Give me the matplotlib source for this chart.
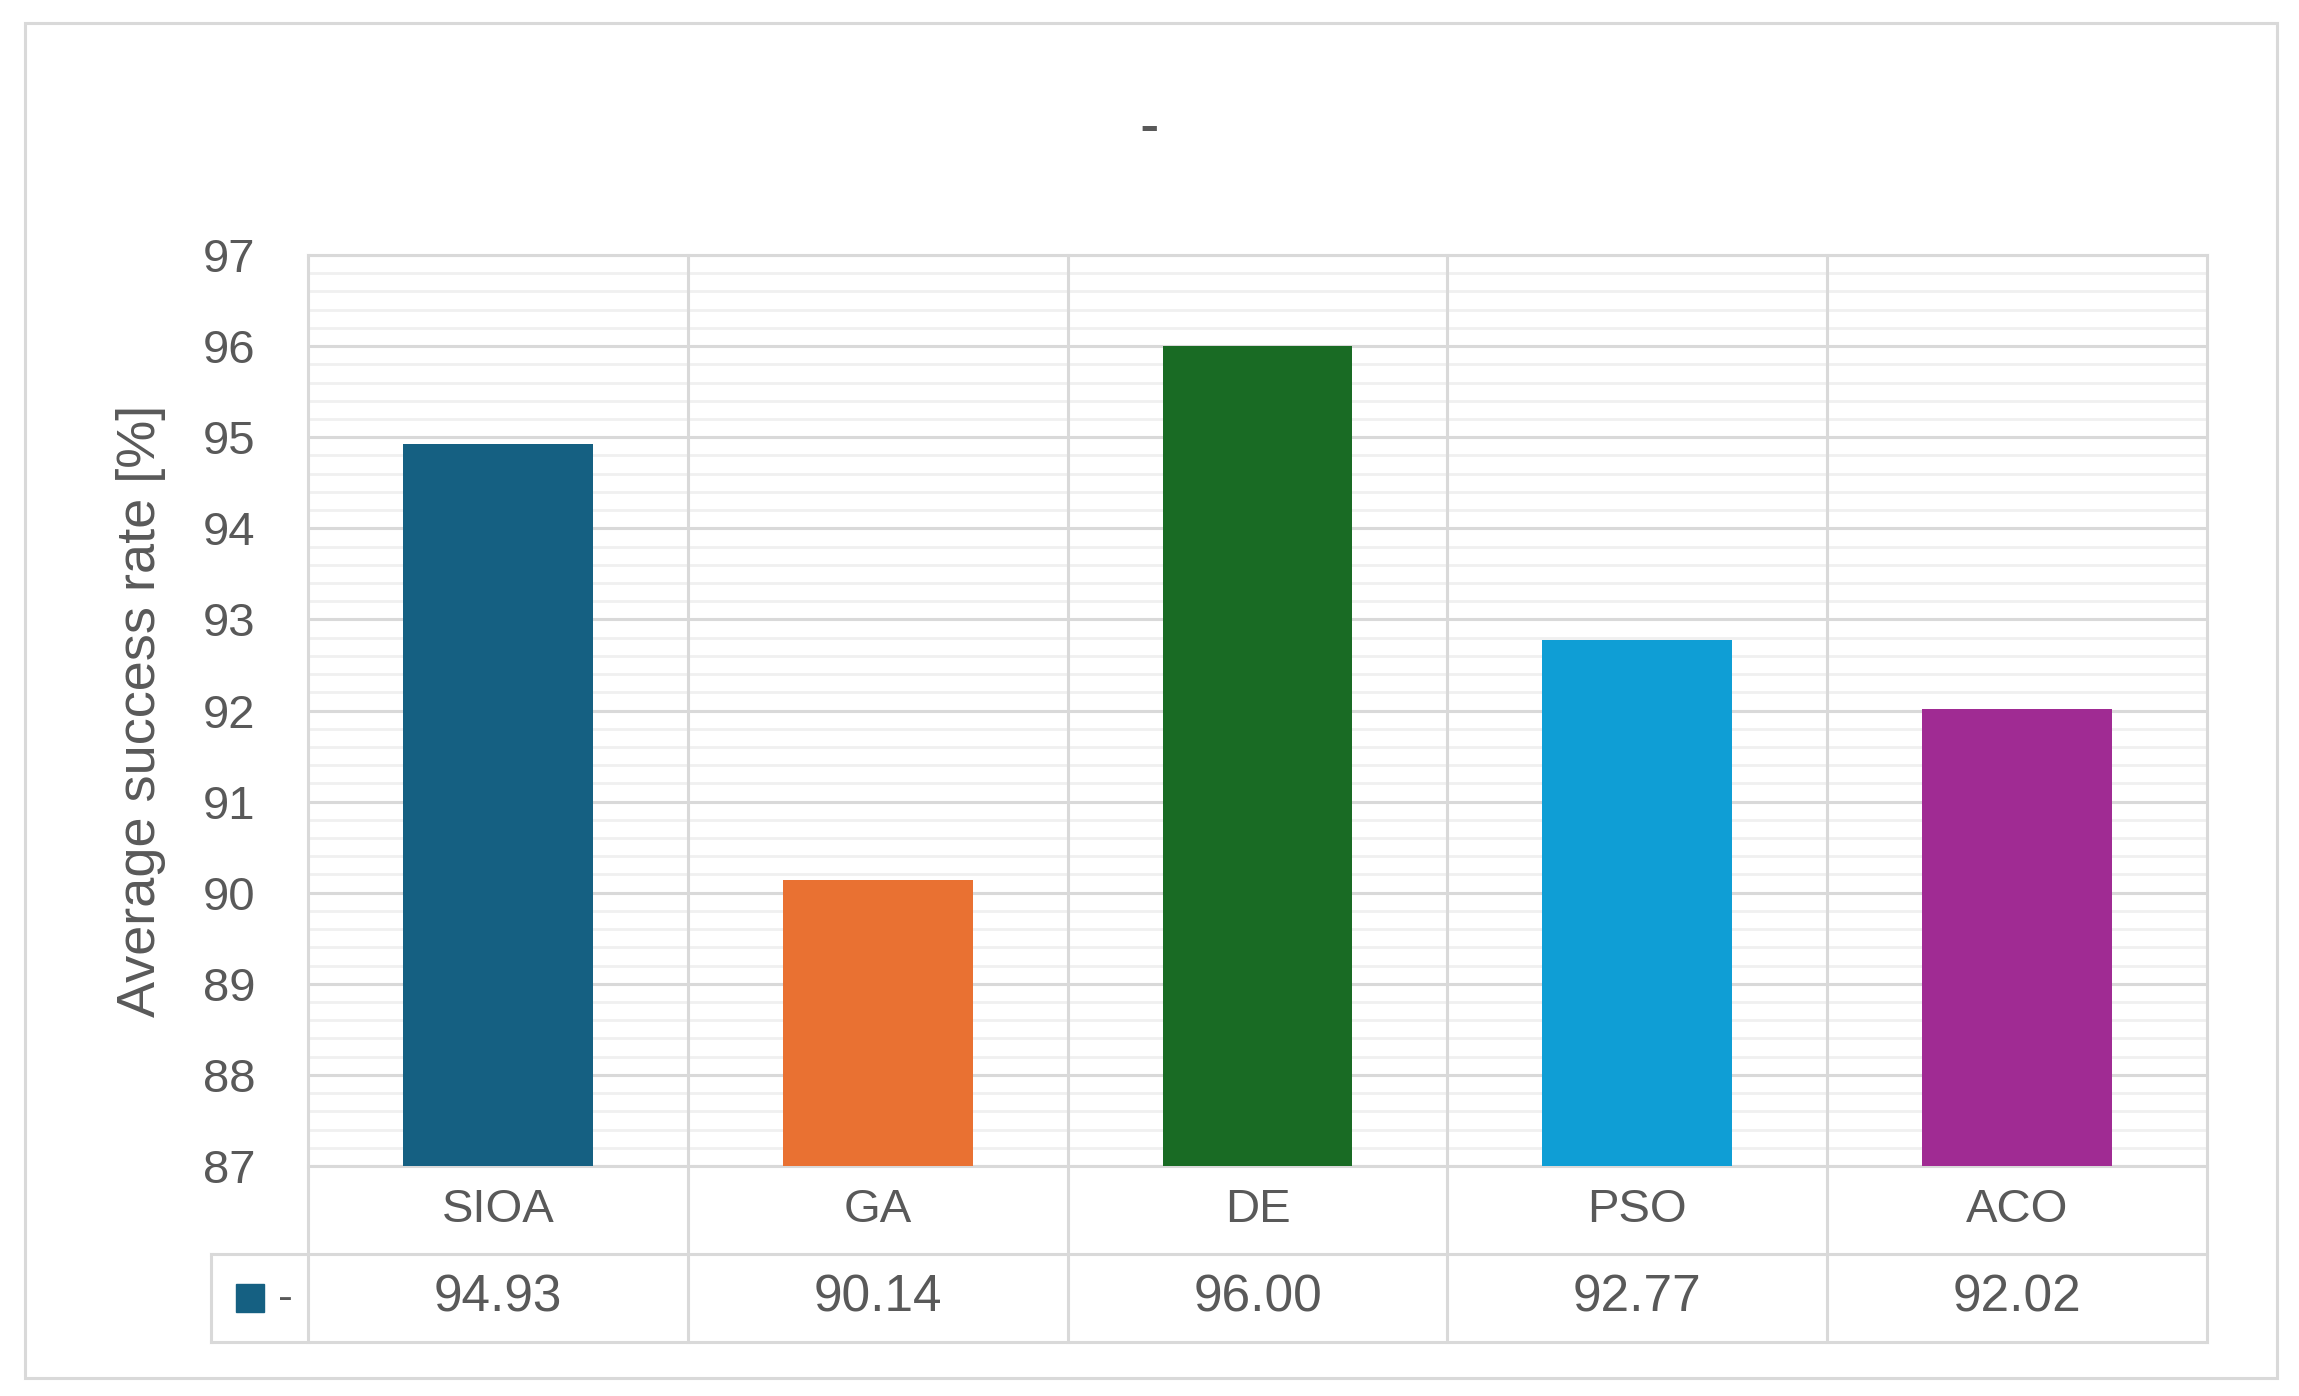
import matplotlib.pyplot as plt
import matplotlib.transforms as mtransforms
from matplotlib.patches import Rectangle
from matplotlib.ticker import MultipleLocator

# data
categories = ['SIOA', 'GA', 'DE', 'PSO', 'ACO']
success_rate = [94.93, 90.14, 96.00, 92.77, 92.02]
bar_colors = ['#156082', '#E97132', '#196B24', '#0F9ED5', '#A02B93']
series_name = '-'

plt.rcParams['font.family'] = ['Liberation Sans', 'DejaVu Sans']
text_col = '#595959'
grid_major = '#D9D9D9'
grid_minor = '#F0F0F0'

fig = plt.figure(figsize=(22.99, 13.96), dpi=100)
W, H = 2299, 1396

# outer chart frame
fig.patches.append(Rectangle((25 / W, 1 - 1378 / H), (2277 - 25) / W, (1378 - 23) / H,
                             transform=fig.transFigure, fill=False, edgecolor=grid_major, lw=2.2))

ax = fig.add_axes([308 / W, 1 - 1166 / H, (2207 - 308) / W, (1166 - 255) / H])
x = list(range(len(categories)))
ax.bar(x, [v - 87 for v in success_rate], bottom=87, width=0.5, color=bar_colors, zorder=3)

ax.set_xlim(-0.5, len(categories) - 0.5)
ax.set_ylim(87, 97)
ax.yaxis.set_major_locator(MultipleLocator(1))
ax.yaxis.set_minor_locator(MultipleLocator(0.2))
ax.grid(which='minor', axis='y', color=grid_minor, lw=2, zorder=0)
ax.grid(which='major', axis='y', color=grid_major, lw=2.2, zorder=1)
ax.set_xticks([])
ax.tick_params(axis='y', which='both', length=0, pad=38, labelsize=34, labelcolor=text_col)
for s in ax.spines.values():
    s.set_visible(False)
ax.set_ylabel('Average success rate [%]', fontsize=39, color=text_col, labelpad=26)

fig.text(0.5, 1 - 129 / H, '-', ha='center', va='center', fontsize=42, color=text_col)

# data table below the plot (x in data, y in axes fraction)
trans = mtransforms.blended_transform_factory(ax.transData, ax.transAxes)
row_h = 88 / 911
row2 = 176 / 911
left_cell = -0.755
n = len(categories)
line_kw = dict(color=grid_major, lw=2.2, transform=trans, clip_on=False, zorder=2)

for b in range(n + 1):
    ax.plot([b - 0.5, b - 0.5], [1, -row2], **line_kw)
ax.plot([-0.5, n - 0.5], [1, 1], **line_kw)
ax.plot([-0.5, n - 0.5], [0, 0], **line_kw)
ax.plot([left_cell, n - 0.5], [-row_h, -row_h], **line_kw)
ax.plot([left_cell, n - 0.5], [-row2, -row2], **line_kw)
ax.plot([left_cell, left_cell], [-row_h, -row2], **line_kw)

for i, (c, v) in enumerate(zip(categories, success_rate)):
    ax.text(i, -row_h / 2, c, transform=trans, ha='center', va='center',
            fontsize=34, color=text_col)
    ax.text(i, -row_h * 1.5, '{:.2f}'.format(v), transform=trans, ha='center', va='center',
            fontsize=37, color=text_col)

# legend key in the table
ax.add_patch(Rectangle((-0.69, -row_h * 1.5 - 0.015), 0.075, 0.030, transform=trans,
                       color=bar_colors[0], clip_on=False))
ax.text(-0.56, -row_h * 1.5, series_name, transform=trans, ha='center', va='center',
        fontsize=32, color=text_col)

fig.savefig('out.png', dpi=100)
